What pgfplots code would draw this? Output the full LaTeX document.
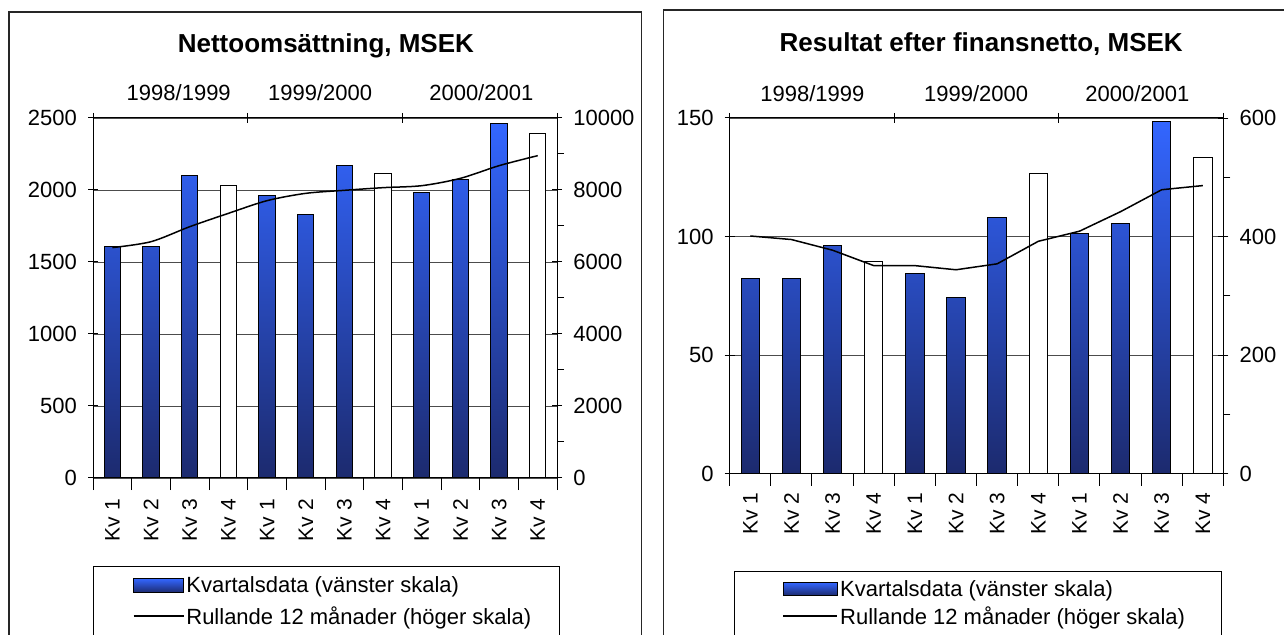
\documentclass[border=0pt]{standalone}
\usepackage{pgfplots}
\pgfplotsset{compat=1.18}
\usepackage{fontspec}
\setmainfont{Liberation Sans}
\definecolor{bartop}{RGB}{51,102,255}
\definecolor{barbot}{RGB}{28,42,110}
\newcommand\tickfont{\fontsize{22}{25}\selectfont}
\newcommand\kvfont{\fontsize{21}{24}\selectfont}
\newcommand\legfont{\fontsize{22}{25}\selectfont}
\newcommand\titlefont{\fontsize{26}{30}\selectfont\bfseries}

\tikzset{
  barstyle/.style={draw=black, line width=1pt, top color=bartop, bottom color=barbot},
  whitebar/.style={draw=black, line width=1pt, fill=white},
}
\pgfplotsset{
  common/.style={scale only axis, anchor=south west, xmin=0.5, xmax=12.5,
    tick align=center, axis line style={line width=1pt,-},
    tick style={black,line width=1pt},
    major tick length=10pt,
    tick label style={font=\tickfont},
    scaled y ticks=false,
    /pgf/number format/assume math mode=true,
    /pgf/number format/1000 sep={},
    clip=false},
  kvlabels/.style={xtick={1,...,12},
    xticklabels={Kv 1,Kv 2,Kv 3,Kv 4,Kv 1,Kv 2,Kv 3,Kv 4,Kv 1,Kv 2,Kv 3,Kv 4},
    minor xtick={0.5,1.5,...,12.5}, minor tick length=12pt,
    every major x tick/.append style={draw=none},
    xticklabel style={font=\kvfont, rotate=90, anchor=east, inner sep=0pt, xshift=#1},
    yticklabel style={inner sep=0pt, xshift=-11pt},
    ytick pos=left, xtick pos=bottom,
    ymajorgrids, grid style={black!70, line width=0.8pt},
    ybar, bar shift=0pt},
  rightscale/.style={axis x line=none, axis y line*=right,
    minor tick length=7pt, every minor y tick/.append style={xshift=3.5pt},
    yticklabel style={inner sep=0pt, anchor=west, xshift=11pt}},
  topyears/.style={ymin=0, ymax=1, axis y line=none, axis x line*=top,
    xtick={0.5,4.5,8.5,12.5}, xticklabels={}, major tick length=10pt},
  mylegend/.style 2 args={legend cell align=left,
    legend style={at={#1}, anchor=north west, draw=none, fill=none,
      inner sep=0pt, font=\legfont, row sep=#2}},
}

\begin{document}
\begin{tikzpicture}[x=1pt,y=1pt]
\useasboundingbox (0,0) rectangle (1284,634);
% panel frames
\draw[line width=1.3pt, black!85] (9,-5) -- (9,622) -- (641.7,622) -- (641.7,-5);
\draw[line width=1.3pt, black!85] (663.3,-5) -- (663.3,624) -- (1290,624);
% legend frames
\draw[line width=1pt] (93.1,-5) -- (93.1,67) -- (559.2,67) -- (559.2,-5);
\draw[line width=1pt] (734.9,-5) -- (734.9,62.3) -- (1221.4,62.3) -- (1221.4,-5);
% titles
\node[font=\titlefont, anchor=base] at (325.9,581) {Nettoomsättning, MSEK};
\node[font=\titlefont, anchor=base] at (981.2,582.3) {Resultat efter finansnetto, MSEK};

% ===== LEFT PANEL =====
\begin{axis}[common, kvlabels=-11pt, at={(93.1pt,156pt)}, width=464pt, height=360pt,
  ymin=0, ymax=2500, ytick={0,500,...,2500}, bar width=0.42]
\addplot[barstyle] coordinates {(1,1610) (2,1606) (3,2100) (5,1960) (6,1833) (7,2169) (9,1986) (10,2072) (11,2461)};
\addplot[whitebar] coordinates {(4,2030) (8,2113) (12,2389)};
\node[font=\tickfont, anchor=base] at (axis cs:2.715,2500) [yshift=17pt] {1998/1999};
\node[font=\tickfont, anchor=base] at (axis cs:6.37,2500) [yshift=17pt] {1999/2000};
\node[font=\tickfont, anchor=base] at (axis cs:10.54,2500) [yshift=17pt] {2000/2001};
\end{axis}
\begin{axis}[common, topyears, at={(93.1pt,156pt)}, width=464pt, height=360pt]
\end{axis}
\begin{axis}[common, rightscale, at={(93.1pt,156pt)}, width=464pt, height=360pt,
  ymin=0, ymax=10000, ytick={0,2000,...,10000}, minor ytick={1000,3000,...,9000},
  mylegend={(axis description cs:0.0853,-0.2686)}{8pt}]
\addlegendimage{legend image code/.code={\draw[barstyle] (0pt,-7pt) rectangle (50pt,7pt);}}
\addlegendentry{Kvartalsdata (vänster skala)}
\addplot[black, line width=1.5pt, smooth, legend image code/.code={\draw[black,line width=1.5pt] (0pt,0pt) -- (50pt,0pt);}] coordinates {(1,6400) (2,6565) (3,6981) (4,7352) (5,7704) (6,7907) (7,7991) (8,8065) (9,8120) (10,8324) (11,8676) (12,8954)};
\addlegendentry{Rullande 12 månader (höger skala)}
\end{axis}

% ===== RIGHT PANEL =====
\begin{axis}[common, kvlabels=-9pt, at={(729.7pt,160.3pt)}, width=493.7pt, height=355.7pt,
  ymin=0, ymax=150, ytick={0,50,100,150}, bar width=0.45]
\addplot[barstyle] coordinates {(1,82.5) (2,82.5) (3,96.3) (5,84.5) (6,74.5) (7,108.2) (9,101.4) (10,105.6) (11,148.6)};
\addplot[whitebar] coordinates {(4,89.4) (8,126.7) (12,133.5)};
\node[font=\tickfont, anchor=base] at (axis cs:2.51,150) [yshift=16pt] {1998/1999};
\node[font=\tickfont, anchor=base] at (axis cs:6.49,150) [yshift=16pt] {1999/2000};
\node[font=\tickfont, anchor=base] at (axis cs:10.41,150) [yshift=16pt] {2000/2001};
\end{axis}
\begin{axis}[common, topyears, at={(729.7pt,160.3pt)}, width=493.7pt, height=355.7pt]
\end{axis}
\begin{axis}[common, rightscale, at={(729.7pt,160.3pt)}, width=493.7pt, height=355.7pt,
  ymin=0, ymax=600, ytick={0,200,400,600}, minor ytick={100,300,500},
  mylegend={(axis description cs:0.107,-0.2932)}{5pt}]
\addlegendimage{legend image code/.code={\draw[barstyle] (0pt,-6.5pt) rectangle (54pt,6.5pt);}}
\addlegendentry{Kvartalsdata (vänster skala)}
\addplot[black, line width=1.5pt, legend image code/.code={\draw[black,line width=1.5pt] (0pt,0pt) -- (54pt,0pt);}] coordinates {(1,401) (2,395) (3,377) (4,351) (5,351) (6,344) (7,354) (8,392) (9,409) (10,442) (11,479) (12,486)};
\addlegendentry{Rullande 12 månader (höger skala)}
\end{axis}
\end{tikzpicture}
\end{document}
